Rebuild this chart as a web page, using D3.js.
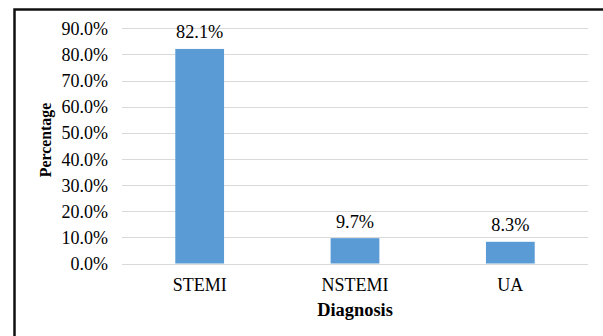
<!DOCTYPE html>
<html>
<head>
<meta charset="utf-8">
<script src="https://cdn.jsdelivr.net/npm/d3@7"></script>
<style>
  html, body { margin: 0; padding: 0; background: #fff; }
  svg { display: block; }
  text { font-family: "Liberation Serif", "Times New Roman", serif; fill: #000; }
</style>
</head>
<body>
<svg id="chart" width="603" height="336"></svg>
<script>
// Distribution of diagnoses (percentage of patients)
const categories = ["STEMI", "NSTEMI", "UA"];
const percentages = [82.1, 9.7, 8.3];
const yTicks = [0, 10, 20, 30, 40, 50, 60, 70, 80, 90];
const xTitle = "Diagnosis";
const yTitle = "Percentage";

const svg = d3.select("#chart");
const W = 603, H = 336;

// outer frame (right and bottom edges run past the canvas)
svg.append("rect")
  .attr("x", 14.5).attr("y", 9.5)
  .attr("width", W + 20).attr("height", H + 20)
  .attr("fill", "none").attr("stroke", "#111").attr("stroke-width", 2.5);

const plot = { left: 122, right: 588, top: 28.3, bottom: 263.5 };

const x = d3.scaleBand()
  .domain(categories)
  .range([plot.left, plot.right])
  .paddingInner(0.686)
  .paddingOuter(0.343);

const y = d3.scaleLinear()
  .domain([0, 90])
  .range([plot.bottom, plot.top]);

const fmt = v => v.toFixed(1) + "%";

// horizontal gridlines
svg.append("g")
  .selectAll("line")
  .data(yTicks)
  .join("line")
  .attr("x1", plot.left).attr("x2", plot.right)
  .attr("y1", d => Math.round(y(d)) + 0.5).attr("y2", d => Math.round(y(d)) + 0.5)
  .attr("stroke", "#d9d9d9").attr("stroke-width", 1);

// y axis tick labels
const yAxis = svg.append("g")
  .attr("transform", `translate(${plot.left - 14},0)`)
  .call(d3.axisLeft(y).tickValues(yTicks).tickFormat(fmt).tickSize(0).tickPadding(0));
yAxis.select(".domain").remove();
yAxis.selectAll("text")
  .attr("font-family", "Liberation Serif, Times New Roman, serif")
  .attr("font-size", 18).attr("fill", "#000")
  .attr("dy", "0.34em");

// bars
svg.append("g")
  .selectAll("rect")
  .data(categories)
  .join("rect")
  .attr("x", d => x(d))
  .attr("width", x.bandwidth())
  .attr("y", (d, i) => y(percentages[i]))
  .attr("height", (d, i) => y(0) - y(percentages[i]))
  .attr("fill", "#5b9bd5");

// value labels
svg.append("g")
  .selectAll("text")
  .data(categories)
  .join("text")
  .attr("x", d => x(d) + x.bandwidth() / 2)
  .attr("y", (d, i) => y(percentages[i]) - 10.5)
  .attr("text-anchor", "middle")
  .attr("font-size", 18.3)
  .text((d, i) => fmt(percentages[i]));

// x axis category labels
const xAxis = svg.append("g")
  .attr("transform", `translate(0,${plot.bottom})`)
  .call(d3.axisBottom(x).tickSize(0).tickPadding(0));
xAxis.select(".domain").remove();
xAxis.selectAll("text")
  .attr("font-family", "Liberation Serif, Times New Roman, serif")
  .attr("font-size", 18).attr("fill", "#000")
  .attr("dy", null)
  .attr("y", 27.5);

// axis titles
svg.append("text")
  .attr("x", (plot.left + plot.right) / 2)
  .attr("y", 315.5)
  .attr("text-anchor", "middle")
  .attr("font-size", 18.4)
  .attr("font-weight", "bold")
  .text(xTitle);

svg.append("text")
  .attr("transform", "translate(51,140) rotate(-90)")
  .attr("text-anchor", "middle")
  .attr("font-size", 15.8)
  .attr("font-weight", "bold")
  .text(yTitle);
</script>
</body>
</html>
